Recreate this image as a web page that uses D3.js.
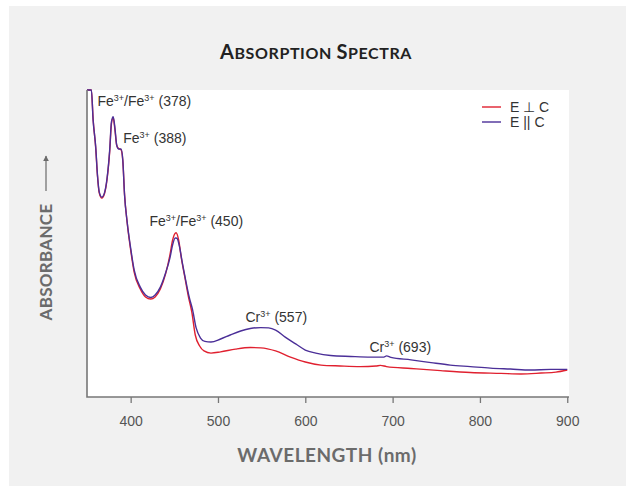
<!DOCTYPE html>
<html>
<head>
  <meta charset="utf-8">
  <script src="https://d3js.org/d3.v7.min.js"></script>
  <style>
    body {
      margin: 0;
      background: #ffffff;
      font-family: "Liberation Sans", Arial, sans-serif;
    }

    .tick_label {
      fill: #555555;
      font-size: 14px;
      text-anchor: middle;
    }

    .note, .legend_label {
      fill: #333333;
      font-size: 14px;
    }

    .axis_title {
      fill: #6b6b6b;
      font-family: Lato, sans-serif;
      font-weight: bold;
    }
  </style>
  <title>Absorption Spectra</title>
</head>

<body>
  <svg></svg>

  <script type="text/javascript">
    const wavelengthPerp = [
      350, 355, 357, 360, 362, 364, 367, 370, 373, 376,
      378, 380, 382, 384, 386, 389, 391, 393, 396, 400,
      404, 411, 417, 423, 428, 434, 440, 445, 448, 452,
      455, 458, 462, 466, 470, 474, 479, 484, 492, 503,
      520, 537, 549, 566, 583, 600, 618, 640, 663, 681,
      686, 693, 721, 755, 789, 824, 847, 870, 887, 900
    ]
    const absorbancePerp = [
      1.0, 1.0, 0.905, 0.81, 0.72, 0.665, 0.648, 0.662, 0.71, 0.80,
      0.89, 0.91, 0.87, 0.82, 0.81, 0.805, 0.77, 0.66, 0.568, 0.479,
      0.407, 0.352, 0.326, 0.319, 0.326, 0.352, 0.401, 0.463, 0.511, 0.535,
      0.511, 0.453, 0.391, 0.329, 0.277, 0.202, 0.166, 0.150, 0.143, 0.147,
      0.156, 0.161, 0.160, 0.150, 0.130, 0.114, 0.104, 0.101, 0.099, 0.101,
      0.103, 0.099, 0.093, 0.086, 0.080, 0.077, 0.075, 0.078, 0.081, 0.088
    ]

    const wavelengthPar = [
      350, 355, 357, 360, 362, 364, 367, 370, 373, 376,
      378, 380, 382, 384, 386, 389, 391, 393, 396, 400,
      404, 411, 417, 423, 428, 434, 440, 445, 448, 451,
      453, 456, 459, 463, 467, 471, 475, 480, 485, 492,
      503, 514, 526, 537, 549, 558, 566, 577, 589, 600,
      612, 629, 652, 675, 690, 693, 698, 721, 744, 766,
      789, 812, 835, 858, 881, 900
    ]
    const absorbancePar = [
      1.0, 1.0, 0.902, 0.814, 0.723, 0.668, 0.651, 0.665, 0.713, 0.805,
      0.896, 0.913, 0.876, 0.821, 0.808, 0.808, 0.772, 0.658, 0.570, 0.485,
      0.414, 0.358, 0.332, 0.324, 0.332, 0.358, 0.404, 0.453, 0.495, 0.518,
      0.517, 0.489, 0.440, 0.381, 0.326, 0.283, 0.225, 0.192, 0.181, 0.179,
      0.189, 0.202, 0.215, 0.223, 0.226, 0.225, 0.218, 0.195, 0.173, 0.153,
      0.143, 0.135, 0.132, 0.130, 0.130, 0.134, 0.129, 0.121, 0.112, 0.104,
      0.099, 0.094, 0.091, 0.088, 0.090, 0.090
    ]

    const xTicks = [400, 500, 600, 700, 800, 900]

    // label text, anchor wavelength and absorbance of the baseline
    const noteIons = ["Fe", "Fe", "Fe", "Cr", "Cr"]
    const notePairs = [true, false, true, false, false]
    const notePeaks = [378, 388, 450, 557, 693]
    const noteX = [362, 391.5, 421.5, 531.5, 673.5]
    const noteY = [0.948, 0.827, 0.557, 0.244, 0.147]

    const seriesNames = ["E \u22a5 C", "E || C"]
    const seriesColors = ["#e0202f", "#4b2f98"]

    const width = 626
    const height = 486

    const svg = d3.select("svg")
      .attr("width", width)
      .attr("height", height)

    svg.append("rect")
      .attr("x", 9)
      .attr("y", 6)
      .attr("width", width - 9)
      .attr("height", height - 6)
      .attr("fill", "#f1f1f1")

    const xScale = d3.scaleLinear()
      .domain([350, 902])
      .range([87, 569])

    const yScale = d3.scaleLinear()
      .domain([0, 1])
      .range([397, 90])

    svg.append("rect")
      .attr("x", xScale(350))
      .attr("y", yScale(1))
      .attr("width", xScale(902) - xScale(350))
      .attr("height", yScale(0) - yScale(1))
      .attr("fill", "#ffffff")

    svg.append("clipPath")
      .attr("id", "plot_clip")
      .append("rect")
      .attr("x", xScale(350))
      .attr("y", yScale(1) - 1)
      .attr("width", xScale(902) - xScale(350))
      .attr("height", yScale(0) - yScale(1) + 1)

    const line = d3.line()
      .x(d => xScale(d[0]))
      .y(d => yScale(d[1]))
      .curve(d3.curveMonotoneX)

    const series = [
      d3.zip(wavelengthPerp, absorbancePerp),
      d3.zip(wavelengthPar, absorbancePar)
    ]

    svg.selectAll(".spectrum")
      .data(series)
      .enter()
      .append("path")
      .attr("class", "spectrum")
      .attr("clip-path", "url(#plot_clip)")
      .attr("fill", "none")
      .attr("stroke", (d, i) => seriesColors[i])
      .attr("stroke-width", 1.4)
      .attr("stroke-linejoin", "round")
      .attr("d", line)

    // axes: plain L shape, ticks only on the bottom
    const xAxis = svg.append("g")
      .attr("transform", `translate(0, ${yScale(0)})`)
      .call(d3.axisBottom(xScale).tickValues(xTicks).tickSize(6).tickSizeOuter(0))

    xAxis.select(".domain").remove()
    xAxis.selectAll(".tick line").attr("stroke", "#777777").attr("stroke-width", 1.3)
    xAxis.selectAll(".tick text")
      .attr("class", "tick_label")
      .attr("y", 19)
      .attr("font-family", null)
      .attr("font-size", null)
      .attr("fill", null)

    svg.append("path")
      .attr("d", `M${xScale(350)},${yScale(1)}V${yScale(0)}H${xScale(902)}`)
      .attr("fill", "none")
      .attr("stroke", "#777777")
      .attr("stroke-width", 1.6)

    // peak notes
    const notes = svg.selectAll(".note")
      .data(notePeaks)
      .enter()
      .append("text")
      .attr("class", "note")
      .attr("x", (d, i) => xScale(noteX[i]))
      .attr("y", (d, i) => yScale(noteY[i]))

    notes.each(function(d, i) {
      const t = d3.select(this)
      t.append("tspan").text(noteIons[i])
      t.append("tspan").attr("font-size", "9px").attr("dy", -5).text("3+")
      if (notePairs[i]) {
        t.append("tspan").attr("dy", 5).text("/" + noteIons[i])
        t.append("tspan").attr("font-size", "9px").attr("dy", -5).text("3+")
      }
      t.append("tspan").attr("dy", 5).text(" (" + d + ")")
    })

    // legend
    const legend = svg.selectAll(".legend")
      .data(seriesNames)
      .enter()
      .append("g")
      .attr("class", "legend")
      .attr("transform", (d, i) => `translate(482, ${107 + i * 15})`)

    legend.append("line")
      .attr("x1", 0)
      .attr("x2", 19)
      .attr("stroke", (d, i) => seriesColors[i])
      .attr("stroke-width", 1.4)

    legend.append("text")
      .attr("class", "legend_label")
      .attr("x", 28)
      .attr("dy", "0.35em")
      .text(d => d)

    // titles
    const title = svg.append("text")
      .attr("x", 316)
      .attr("y", 59)
      .attr("text-anchor", "middle")
      .attr("fill", "#222222")
      .attr("font-family", "Lato, sans-serif")
      .attr("font-weight", "bold")
      .attr("letter-spacing", "0.6px")

    title.append("tspan").attr("font-size", "20px").text("A")
    title.append("tspan").attr("font-size", "16px").text("BSORPTION ")
    title.append("tspan").attr("font-size", "20px").text("S")
    title.append("tspan").attr("font-size", "16px").text("PECTRA")

    svg.append("text")
      .attr("class", "axis_title")
      .attr("x", 327)
      .attr("y", 462)
      .attr("text-anchor", "middle")
      .attr("font-size", "19px")
      .attr("letter-spacing", "0.5px")
      .text("WAVELENGTH (nm)")

    svg.append("text")
      .attr("class", "axis_title")
      .attr("transform", "translate(52, 262) rotate(-90)")
      .attr("text-anchor", "middle")
      .attr("font-size", "17px")
      .attr("letter-spacing", "0.3px")
      .text("ABSORBANCE")

    svg.append("defs")
      .append("marker")
      .attr("id", "arrow_head")
      .attr("viewBox", "0 0 10 10")
      .attr("refX", 9)
      .attr("refY", 5)
      .attr("markerWidth", 5)
      .attr("markerHeight", 6)
      .attr("orient", "auto")
      .append("path")
      .attr("d", "M0,0L10,5L0,10Z")
      .attr("fill", "#6b6b6b")

    svg.append("line")
      .attr("x1", 46)
      .attr("x2", 46)
      .attr("y1", 191)
      .attr("y2", 156)
      .attr("stroke", "#6b6b6b")
      .attr("stroke-width", 1.2)
      .attr("marker-end", "url(#arrow_head)")
  </script>
</body>
</html>
